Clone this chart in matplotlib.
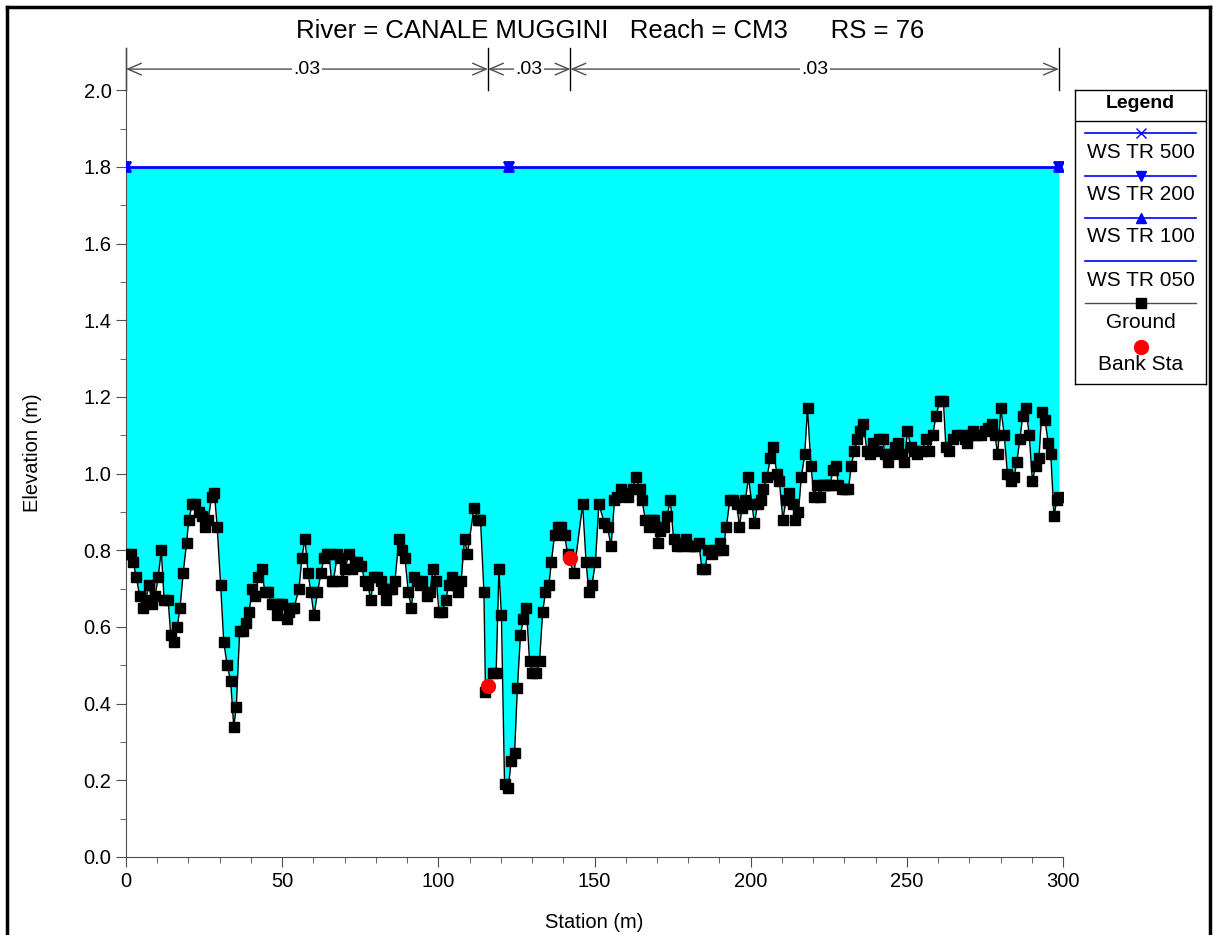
import numpy as np
import matplotlib.pyplot as plt
from matplotlib.lines import Line2D

plt.rcParams.update({
    "font.family": ["Liberation Sans", "DejaVu Sans"],
    "font.size": 14})

# ground profile
station = [
    0.0, 1.5, 2.3, 3.3, 4.4, 5.4, 6.3, 7.4, 8.4, 9.3, 10.3, 11.3, 12.2, 13.5,
    14.3, 15.3, 16.4, 17.3, 18.3, 19.4, 20.1, 21.2, 22.2, 23.3, 24.4, 25.3,
    26.3, 27.4, 28.3, 29.2, 30.3, 31.3, 32.4, 33.5, 34.5, 35.3, 36.4, 37.3,
    38.4, 39.4, 40.5, 41.4, 42.3, 43.4, 44.5, 45.5, 46.6, 47.5, 48.3, 49.2,
    50.1, 51.4, 52.2, 53.0, 53.8, 55.4, 56.3, 57.3, 58.3, 59.2, 60.2, 61.3,
    62.4, 63.4, 64.3, 65.0, 65.8, 66.4, 67.7, 68.5, 69.3, 70.0, 71.4, 72.5,
    73.3, 74.1, 75.4, 76.4, 77.5, 78.3, 79.4, 80.5, 81.5, 82.4, 83.4, 84.5,
    85.3, 86.1, 87.4, 88.5, 89.3, 90.4, 91.4, 92.2, 93.3, 94.1, 94.9, 96.3,
    97.3, 98.3, 99.4, 100.2, 101.3, 102.3, 103.4, 104.3, 105.5, 106.3, 107.3,
    108.4, 109.3, 111.4, 112.7, 113.5, 114.6, 115.1, 117.6, 118.5, 119.4,
    120.2, 121.2, 122.4, 123.3, 124.4, 125.3, 126.3, 127.2, 128.2, 129.2,
    130.1, 131.4, 132.4, 133.4, 134.3, 135.4, 136.2, 137.2, 138.3, 139.4,
    140.4, 141.4, 143.4, 146.2, 147.3, 148.2, 149.2, 150.3, 151.4, 153.2,
    154.2, 155.3, 156.4, 157.2, 158.6, 159.6, 160.7, 162.2, 163.3, 164.5,
    165.2, 166.3, 167.4, 168.3, 169.0, 170.2, 171.1, 172.1, 173.2, 174.3,
    175.3, 176.4, 177.7, 178.5, 179.3, 180.7, 181.5, 182.3, 183.4, 184.4,
    185.5, 186.2, 187.6, 188.8, 190.1, 191.1, 192.2, 193.3, 194.5, 195.6,
    196.4, 197.2, 198.3, 199.3, 200.4, 201.2, 202.2, 203.3, 204.1, 205.2,
    206.3, 207.1, 208.4, 209.2, 210.3, 211.3, 212.3, 213.4, 214.3, 215.3,
    216.2, 217.3, 218.2, 219.3, 220.3, 221.2, 222.3, 223.1, 223.9, 224.7,
    225.5, 226.3, 227.3, 228.1, 229.2, 230.3, 231.3, 232.2, 233.2, 234.2,
    235.1, 236.1, 237.2, 238.2, 239.1, 240.4, 241.2, 242.3, 243.0, 244.1,
    245.0, 246.2, 247.3, 248.4, 249.2, 250.2, 251.3, 252.3, 253.4, 254.8,
    256.2, 257.2, 258.3, 259.3, 260.6, 261.7, 262.5, 263.6, 264.9, 266.2,
    267.6, 268.6, 269.2, 270.2, 271.3, 272.5, 273.8, 275.0, 276.1, 277.4,
    278.2, 279.1, 280.1, 281.2, 282.2, 283.2, 284.3, 285.2, 286.2, 287.1,
    288.1, 289.2, 290.2, 291.2, 292.3, 293.2, 294.2, 295.3, 296.1, 297.1,
    298.0, 298.7]
elevation = [
    0.79, 0.79, 0.77, 0.73, 0.68, 0.65, 0.67, 0.71, 0.66, 0.68, 0.73, 0.80,
    0.67, 0.67, 0.58, 0.56, 0.60, 0.65, 0.74, 0.82, 0.88, 0.92, 0.92, 0.90,
    0.89, 0.86, 0.88, 0.94, 0.95, 0.86, 0.71, 0.56, 0.50, 0.46, 0.34, 0.39,
    0.59, 0.59, 0.61, 0.64, 0.70, 0.68, 0.73, 0.75, 0.69, 0.69, 0.66, 0.66,
    0.63, 0.66, 0.66, 0.62, 0.64, 0.65, 0.65, 0.70, 0.78, 0.83, 0.74, 0.69,
    0.63, 0.69, 0.74, 0.78, 0.79, 0.79, 0.72, 0.72, 0.79, 0.78, 0.72, 0.75,
    0.79, 0.75, 0.77, 0.77, 0.76, 0.72, 0.71, 0.67, 0.73, 0.73, 0.72, 0.70,
    0.67, 0.70, 0.70, 0.72, 0.83, 0.80, 0.78, 0.69, 0.65, 0.73, 0.72, 0.71,
    0.72, 0.68, 0.69, 0.75, 0.72, 0.64, 0.64, 0.67, 0.71, 0.73, 0.71, 0.69,
    0.72, 0.83, 0.79, 0.91, 0.88, 0.88, 0.69, 0.43, 0.48, 0.48, 0.75, 0.63,
    0.19, 0.18, 0.25, 0.27, 0.44, 0.58, 0.62, 0.65, 0.51, 0.48, 0.48, 0.51,
    0.64, 0.69, 0.71, 0.77, 0.84, 0.86, 0.86, 0.84, 0.79, 0.74, 0.92, 0.77,
    0.69, 0.71, 0.77, 0.92, 0.87, 0.86, 0.81, 0.93, 0.94, 0.96, 0.95, 0.94,
    0.96, 0.99, 0.96, 0.93, 0.88, 0.86, 0.88, 0.88, 0.82, 0.85, 0.86, 0.89,
    0.93, 0.83, 0.81, 0.81, 0.82, 0.83, 0.81, 0.81, 0.81, 0.82, 0.75, 0.75,
    0.80, 0.79, 0.80, 0.82, 0.80, 0.86, 0.93, 0.93, 0.92, 0.86, 0.91, 0.93,
    0.99, 0.92, 0.87, 0.92, 0.93, 0.96, 0.99, 1.04, 1.07, 1.00, 0.98, 0.88,
    0.93, 0.95, 0.92, 0.88, 0.90, 0.99, 1.05, 1.17, 1.02, 0.94, 0.97, 0.94,
    0.97, 0.97, 0.97, 0.97, 1.01, 1.02, 0.97, 0.96, 0.96, 0.96, 1.02, 1.06,
    1.09, 1.11, 1.13, 1.06, 1.05, 1.08, 1.06, 1.09, 1.09, 1.05, 1.03, 1.05,
    1.07, 1.08, 1.05, 1.03, 1.11, 1.07, 1.06, 1.05, 1.06, 1.09, 1.06, 1.10,
    1.15, 1.19, 1.19, 1.07, 1.06, 1.09, 1.10, 1.10, 1.09, 1.08, 1.10, 1.11,
    1.10, 1.10, 1.11, 1.12, 1.13, 1.10, 1.05, 1.17, 1.10, 1.00, 0.98, 0.99,
    1.03, 1.09, 1.15, 1.17, 1.10, 0.98, 1.02, 1.04, 1.16, 1.14, 1.08, 1.05,
    0.89, 0.93, 0.94]

bank_sta = [115.9, 142.3]
bank_elev = [0.447, 0.78]

ws_elev = 1.80
ws_marker_sta = [0.0, 122.5, 298.7]
ws_profiles = ["WS TR 500", "WS TR 200", "WS TR 100", "WS TR 050"]

n_breaks = [0.0, 115.9, 142.3, 298.7]
n_values = [".03", ".03", ".03"]

title = "River = CANALE MUGGINI   Reach = CM3      RS = 76"


def plot(plot_file: str) -> None:
    W, H = 1213, 935
    fig = plt.figure(figsize=(W / 100, H / 100), dpi=100)
    ax = fig.add_axes([126 / W, 1 - 857 / H, (1063 - 126) / W, (857 - 48) / H])

    sta = np.array(station)
    elv = np.array(elevation)

    # water fill and WS lines
    ax.fill_between(sta, elv, ws_elev, where=elv < ws_elev, color="#00ffff",
                    linewidth=0, zorder=1)
    ws_x = [sta[0], sta[-1]]
    ax.plot(ws_x, [ws_elev, ws_elev], color="blue", linewidth=2, zorder=3)
    for mk in ["x", "v", "^"]:
        ax.plot(ws_marker_sta, [ws_elev] * len(ws_marker_sta), linestyle="none",
                marker=mk, color="blue", markersize=7, markeredgewidth=1.3,
                zorder=4)

    # ground
    ax.plot(sta, elv, color="black", linewidth=1, marker="s", markersize=7,
            zorder=5)
    ax.plot(bank_sta, bank_elev, linestyle="none", marker="o", color="red",
            markersize=10, zorder=6)

    # manning's n annotations
    for b in n_breaks:
        ax.plot([b, b], [2.0, 2.11], color="black", linewidth=1, zorder=2,
                clip_on=False)
    for i, lab in enumerate(n_values):
        x0, x1 = n_breaks[i], n_breaks[i + 1]
        ax.annotate("", xy=(x0, 2.055), xytext=(x1, 2.055),
                    arrowprops=dict(arrowstyle="<->,head_length=0.7,head_width=0.3",
                                    color="0.3", linewidth=1,
                                    shrinkA=0, shrinkB=0),
                    annotation_clip=False)
        ax.text((x0 + x1) / 2, 2.055, lab, ha="center", va="center",
                fontsize=14, bbox=dict(facecolor="white", edgecolor="none",
                                       pad=1))

    ax.set_xlim(0, 300)
    ax.set_ylim(0, 2.11)
    ax.set_xticks(np.arange(0, 301, 50))
    ax.set_xticks(np.arange(0, 301, 10), minor=True)
    ax.set_yticks(np.arange(0, 2.01, 0.2))
    ax.set_yticks(np.arange(0, 2.01, 0.1), minor=True)
    ax.yaxis.set_major_formatter(plt.FormatStrFormatter("%.1f"))
    ax.tick_params(which="major", length=7, direction="out", color="0.3",
                   labelsize=14.5)
    ax.tick_params(which="minor", length=4, direction="out", color="0.3")
    for s in ["top", "right"]:
        ax.spines[s].set_visible(False)
    for s in ["left", "bottom"]:
        ax.spines[s].set_color("0.3")
    ax.set_xlabel("Station (m)", fontsize=14.5)
    ax.set_ylabel("Elevation (m)", fontsize=14.5)
    ax.xaxis.set_label_coords(0.5, -(913 - 857) / (857 - 48))
    ax.yaxis.set_label_coords(-(126 - 42) / (1063 - 126), 0.5)

    fig.text(610 / W, 1 - 31 / H, title, ha="center", va="center",
             fontsize=18.5)

    # legend box drawn by hand
    lx0, lx1, ly0, ly1 = 1075, 1206, 90, 384
    lax = fig.add_axes([lx0 / W, 1 - ly1 / H, (lx1 - lx0) / W, (ly1 - ly0) / H])
    lax.set_xlim(lx0, lx1)
    lax.set_ylim(ly1, ly0)
    lax.set_xticks([])
    lax.set_yticks([])
    for s in lax.spines.values():
        s.set_linewidth(1)
    xc = (lx0 + lx1) / 2
    lax.text(xc, 104, "Legend", ha="center", va="center", fontsize=14,
             fontweight="bold")
    lax.plot([lx0, lx1], [121, 121], color="black", linewidth=1)
    mk_list = ["x", "v", "^", None]
    line_y = [133, 176, 218, 261]
    text_y = [152, 194, 237, 280]
    for lab, mk, yl, yt in zip(ws_profiles, mk_list, line_y, text_y):
        lax.plot([lx0 + 10, lx1 - 10], [yl, yl], color="blue", linewidth=1.2)
        if mk:
            lax.plot([xc], [yl], marker=mk, color="blue", markersize=7)
        lax.text(xc, yt, lab, ha="center", va="center", fontsize=15)
    lax.plot([lx0 + 10, lx1 - 10], [303, 303], color="0.3", linewidth=1)
    lax.plot([xc], [303], marker="s", color="black", markersize=7)
    lax.text(xc, 322, "Ground", ha="center", va="center", fontsize=15)
    lax.plot([xc], [347], marker="o", color="red", markersize=10)
    lax.text(xc, 365, "Bank Sta", ha="center", va="center", fontsize=15)

    # outer frame
    for xs, ys in [([7, 7], [7, 935]), ([7, 1210], [7, 7]),
                   ([1210, 1210], [7, 935])]:
        fig.add_artist(Line2D([x / W for x in xs], [1 - y / H for y in ys],
                              color="black", linewidth=2.5))

    fig.savefig(plot_file, dpi=100)
    plt.close(fig)


if __name__ == "__main__":
    plot("out.png")
